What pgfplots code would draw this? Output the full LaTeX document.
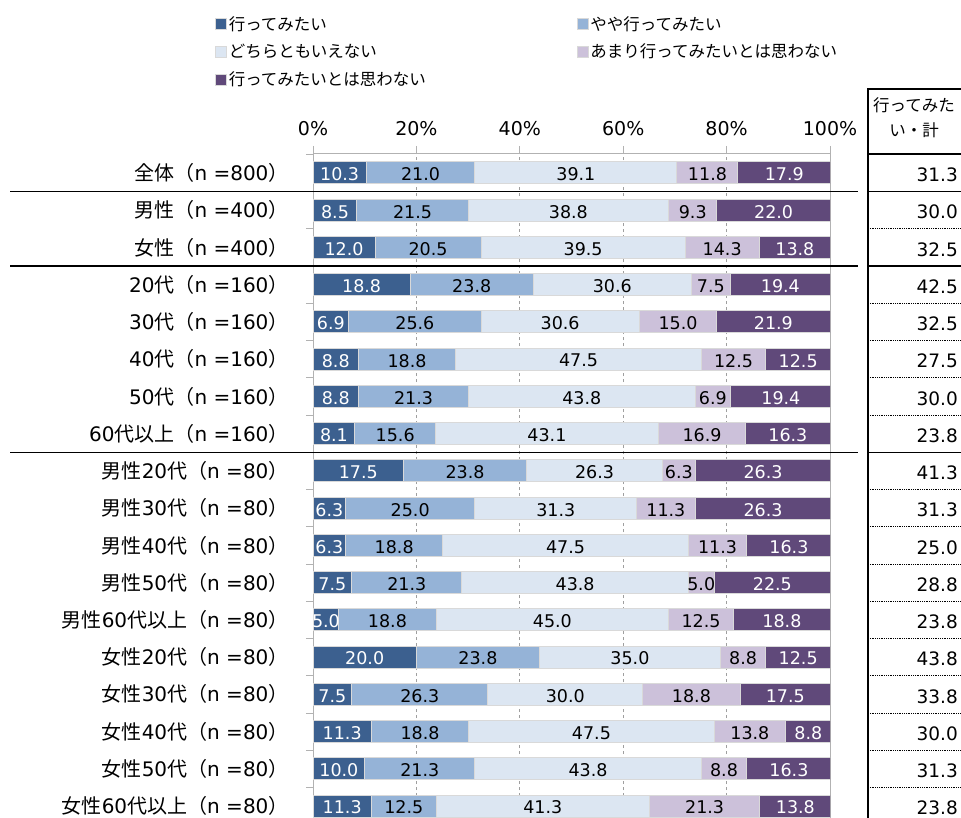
\documentclass[border=0pt]{standalone}
\usepackage{pgfplots}
\pgfplotsset{compat=1.18}
\usepackage{pgfplotstable}
\usepackage{fontspec}
\setmainfont{DejaVu Sans}
\newfontfamily\jp{Noto Sans CJK JP}
\newcommand{\J}[1]{{\jp #1}}
\definecolor{c1}{RGB}{60,96,143}
\definecolor{c2}{RGB}{149,179,215}
\definecolor{c3}{RGB}{220,230,242}
\definecolor{c4}{RGB}{204,193,218}
\definecolor{c5}{RGB}{96,73,122}
\definecolor{edge}{RGB}{217,217,217}

% rows top to bottom (y=18 is the top row)
\pgfplotstableread{
y  a    b    c    d    e
18 10.3 21.0 39.1 11.8 17.9
17 8.5  21.5 38.8 9.3  22.0
16 12.0 20.5 39.5 14.3 13.8
15 18.8 23.8 30.6 7.5  19.4
14 6.9  25.6 30.6 15.0 21.9
13 8.8  18.8 47.5 12.5 12.5
12 8.8  21.3 43.8 6.9  19.4
11 8.1  15.6 43.1 16.9 16.3
10 17.5 23.8 26.3 6.3  26.3
9  6.3  25.0 31.3 11.3 26.3
8  6.3  18.8 47.5 11.3 16.3
7  7.5  21.3 43.8 5.0  22.5
6  5.0  18.8 45.0 12.5 18.8
5  20.0 23.8 35.0 8.8  12.5
4  7.5  26.3 30.0 18.8 17.5
3  11.3 18.8 47.5 13.8 8.8
2  10.0 21.3 43.8 8.8  16.3
1  11.3 12.5 41.3 21.3 13.8
}\data
% label positions: centre of each stacked segment
\pgfplotstablecreatecol[expr={\thisrow{a}/2}]{pa}\data
\pgfplotstablecreatecol[expr={\thisrow{a}+\thisrow{b}/2}]{pb}\data
\pgfplotstablecreatecol[expr={\thisrow{a}+\thisrow{b}+\thisrow{c}/2}]{pc}\data
\pgfplotstablecreatecol[expr={\thisrow{a}+\thisrow{b}+\thisrow{c}+\thisrow{d}/2}]{pd}\data
\pgfplotstablecreatecol[expr={\thisrow{a}+\thisrow{b}+\thisrow{c}+\thisrow{d}+\thisrow{e}/2}]{pe}\data

\pgfplotsset{
  geom/.style={at={(313pt,-153pt)}, anchor=north west,
    x=5.17pt, y=37.24pt, xmin=0, xmax=100, ymin=0.463, ymax=18.537},
  seg/.style={fill=#1, draw=edge, line width=1pt},
  lab/.style={#1, draw=none, only marks, mark=none, nodes near coords,
    point meta=explicit,
    nodes near coords={\pgfmathprintnumber[fixed,fixed zerofill,precision=1]{\pgfplotspointmeta}},
    nodes near coords style={text=#1, anchor=center, inner sep=0pt,
      font=\fontsize{17.5}{20}\selectfont, yshift=-1.5pt}},
}

\begin{document}
\begin{tikzpicture}
\path[use as bounding box] (0pt,0pt) rectangle (961pt,-818pt);
\clip (0pt,0pt) rectangle (961pt,-818pt);
\begin{axis}[
  geom,
  xbar stacked, bar width=22pt,
  xtick={0,20,...,100}, xticklabels={0\%,20\%,40\%,60\%,80\%,100\%},
  xtick pos=right, xticklabel pos=right,
  minor xtick={0,20,...,100},
  ytick={1,...,18},
  yticklabels={
    {\J{女性}60\J{代以上（}n =80\J{）}},
    {\J{女性}50\J{代（}n =80\J{）}},
    {\J{女性}40\J{代（}n =80\J{）}},
    {\J{女性}30\J{代（}n =80\J{）}},
    {\J{女性}20\J{代（}n =80\J{）}},
    {\J{男性}60\J{代以上（}n =80\J{）}},
    {\J{男性}50\J{代（}n =80\J{）}},
    {\J{男性}40\J{代（}n =80\J{）}},
    {\J{男性}30\J{代（}n =80\J{）}},
    {\J{男性}20\J{代（}n =80\J{）}},
    {60\J{代以上（}n =160\J{）}},
    {50\J{代（}n =160\J{）}},
    {40\J{代（}n =160\J{）}},
    {30\J{代（}n =160\J{）}},
    {20\J{代（}n =160\J{）}},
    {\J{女性（}n =400\J{）}},
    {\J{男性（}n =400\J{）}},
    {\J{全体（}n =800\J{）}}},
  minor ytick={0.5,1.5,...,18.5},
  ytick pos=left,
  tick align=outside, major tick length=0pt, minor tick length=7pt,
  tick style={gray!60, line width=0.9pt},
  axis line style={gray!60, line width=0.9pt},
  xmajorgrids, grid style={gray!75, dashed, line width=0.8pt},
  /pgf/number format/assume math mode=true,
  xticklabel style={font=\fontsize{19}{22}\selectfont, yshift=14pt},
  yticklabel style={font=\fontsize{20}{24}\selectfont, xshift=-21pt},
  legend columns=2,
  legend cell align=left,
  legend image code/.code={\draw[#1, line width=0.6pt] (0pt,-5.5pt) rectangle (11pt,5.5pt);},
  legend style={draw=none, fill=none, at={(-0.1954,1.2095)}, anchor=north west,
    font=\fontsize{16.5}{20}\selectfont\jp, row sep=8.5pt},
]
\addplot[seg=c1] table[x=a, y=y]{\data};
\addlegendentry{\makebox[346pt][l]{行ってみたい}}
\addplot[seg=c2] table[x=b, y=y]{\data};
\addlegendentry{やや行ってみたい}
\addplot[seg=c3] table[x=c, y=y]{\data};
\addlegendentry{\makebox[346pt][l]{どちらともいえない}}
\addplot[seg=c4] table[x=d, y=y]{\data};
\addlegendentry{あまり行ってみたいとは思わない}
\addplot[seg=c5] table[x=e, y=y]{\data};
\addlegendentry{\makebox[346pt][l]{行ってみたいとは思わない}}
\end{axis}

% segment values
\begin{axis}[geom, hide axis, clip=false, /pgf/number format/assume math mode=true]
\addplot[lab=white] table[x=pa, y=y, meta=a]{\data};
\addplot[lab=black] table[x=pb, y=y, meta=b]{\data};
\addplot[lab=black] table[x=pc, y=y, meta=c]{\data};
\addplot[lab=black] table[x=pd, y=y, meta=d]{\data};
\addplot[lab=white] table[x=pe, y=y, meta=e]{\data};
\end{axis}

% group separators
\foreach \yy in {191.6,266.1,452.3} {
  \draw[black, line width=1.3pt] (10pt,-\yy pt) -- (858pt,-\yy pt);
  \draw[black, line width=1.3pt] (868pt,-\yy pt) -- (961pt,-\yy pt);
}
% table frame
\draw[black, line width=1.3pt] (868pt,-818pt) -- (868pt,-89pt) -- (961pt,-89pt);
\draw[black, line width=1.3pt] (868pt,-154pt) -- (961pt,-154pt);
\foreach \yy in {228.9,303.3,340.6,377.8,415.1,489.6,526.8,564.0,601.3,638.5,675.8,713.0,750.3,787.5} {
  \draw[black, densely dotted, line width=0.8pt] (868pt,-\yy pt) -- (961pt,-\yy pt);
}
\node[align=center, font=\fontsize{16.5}{25}\selectfont\jp, inner sep=0pt] at (914pt,-118pt) {行ってみた\\い・計};
\foreach \v [count=\i from 0] in {31.3,30.0,32.5,42.5,32.5,27.5,30.0,23.8,41.3,31.3,25.0,28.8,23.8,43.8,33.8,30.0,31.3,23.8} {
  \node[anchor=east, font=\fontsize{18.5}{22}\selectfont, inner sep=0pt] at (958pt,{-(175+\i*37.24)*1pt}) {\v};
}
\end{tikzpicture}
\end{document}
